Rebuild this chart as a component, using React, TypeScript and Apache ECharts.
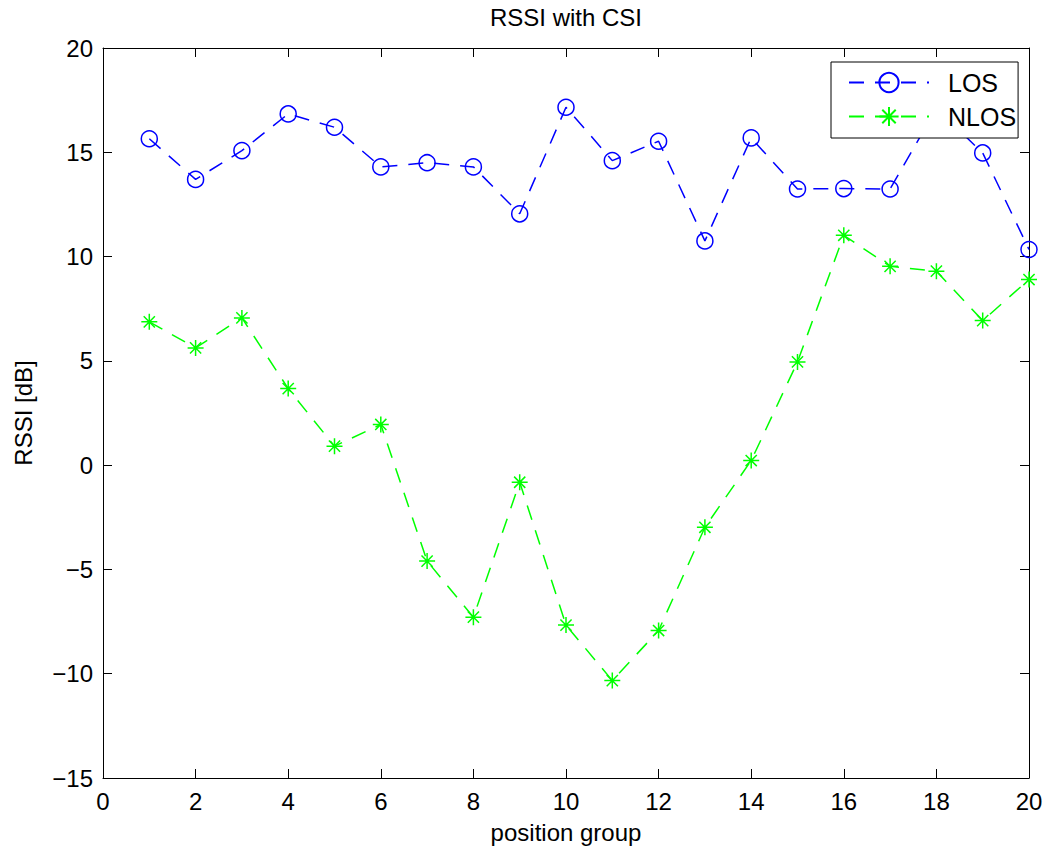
import React, { useEffect, useRef } from "react";
import * as echarts from "echarts";

const positions = [1, 2, 3, 4, 5, 6, 7, 8, 9, 10, 11, 12, 13, 14, 15, 16, 17, 18, 19, 20];
const losValues = [15.65, 13.7, 15.08, 16.84, 16.2, 14.3, 14.5, 14.3, 12.05, 17.16, 14.6, 15.53, 10.75, 15.69, 13.24, 13.26, 13.24, 17.1, 14.97, 10.34];
const nlosValues = [6.87, 5.62, 7.06, 3.67, 0.91, 1.95, -4.6, -7.29, -0.82, -7.67, -10.33, -7.93, -2.98, 0.22, 4.95, 11.02, 9.53, 9.3, 6.93, 8.9];
const seriesNames = ["LOS", "NLOS"];
const xTicks = { min: 0, max: 20, interval: 2 };
const yTicks = { min: -15, max: 20, interval: 5 };

const FONT = "'Liberation Sans', Arial, Helvetica, sans-serif";
const ASTERISK = "path://M5 0L5 10M0 5L10 5M1.5 1.5L8.5 8.5M1.5 8.5L8.5 1.5";

export default function App() {
  const ref = useRef<HTMLDivElement>(null);
  useEffect(() => {
    if (!ref.current) return;
    const chart = echarts.init(ref.current, undefined, { renderer: "svg" });
    const tickStyle = { show: true, inside: true, length: 9, lineStyle: { color: "#000", width: 1 } };
    const lineAx = { show: true, onZero: false, lineStyle: { color: "#000", width: 1 } };
    chart.setOption({
      animation: false,
      backgroundColor: "#fff",
      textStyle: { fontFamily: FONT },
      grid: { left: 103, right: 19, top: 48, bottom: 75, containLabel: false },
      graphic: [
        {
          type: "text",
          x: 566,
          y: 5,
          style: { text: "RSSI with CSI", textAlign: "center", font: `24px ${FONT}`, fill: "#000" },
        },
      ],
      legend: {
        orient: "vertical",
        left: 831,
        top: 62,
        padding: [8, 2, 9, 17],
        itemWidth: 80,
        itemHeight: 24,
        itemGap: 9,
        backgroundColor: "#fff",
        borderColor: "#000",
        borderWidth: 1,
        borderRadius: 0,
        textStyle: { fontSize: 25, color: "#000", fontFamily: FONT, padding: [0, 0, 0, 14] },
        data: seriesNames,
      },
      xAxis: [
        {
          type: "value",
          min: xTicks.min,
          max: xTicks.max,
          interval: xTicks.interval,
          name: "position group",
          nameLocation: "middle",
          nameGap: 42,
          nameTextStyle: { fontSize: 24, color: "#000", fontFamily: FONT },
          axisLine: lineAx,
          axisTick: tickStyle,
          axisLabel: { fontSize: 24, color: "#000", margin: 11, fontFamily: FONT },
          splitLine: { show: false },
        },
        {
          type: "value",
          position: "top",
          min: xTicks.min,
          max: xTicks.max,
          interval: xTicks.interval,
          axisLine: lineAx,
          axisTick: tickStyle,
          axisLabel: { show: false },
          splitLine: { show: false },
        },
      ],
      yAxis: [
        {
          type: "value",
          min: yTicks.min,
          max: yTicks.max,
          interval: yTicks.interval,
          name: "RSSI [dB]",
          nameLocation: "middle",
          nameGap: 68,
          nameTextStyle: { fontSize: 24, color: "#000", fontFamily: FONT },
          axisLine: lineAx,
          axisTick: tickStyle,
          axisLabel: {
            fontSize: 24,
            color: "#000",
            margin: 10,
            fontFamily: FONT,
            formatter: (v: number) => (v < 0 ? "\u2212" + Math.abs(v) : String(v)),
          },
          splitLine: { show: false },
        },
        {
          type: "value",
          position: "right",
          min: yTicks.min,
          max: yTicks.max,
          interval: yTicks.interval,
          axisLine: lineAx,
          axisTick: tickStyle,
          axisLabel: { show: false },
          splitLine: { show: false },
        },
      ],
      series: [
        {
          name: seriesNames[0],
          type: "line",
          xAxisIndex: 0,
          yAxisIndex: 0,
          data: positions.map((p, i) => [p, losValues[i]]),
          symbol: "circle",
          symbolSize: 16,
          showAllSymbol: true,
          lineStyle: { color: "#0000ff", width: 1.5, type: [15, 11] },
          itemStyle: { color: "rgba(0,0,0,0)", borderColor: "#0000ff", borderWidth: 1.5 },
          z: 3,
        },
        {
          name: seriesNames[1],
          type: "line",
          xAxisIndex: 0,
          yAxisIndex: 0,
          data: positions.map((p, i) => [p, nlosValues[i]]),
          symbol: ASTERISK,
          symbolSize: 16,
          showAllSymbol: true,
          lineStyle: { color: "#00ff00", width: 1.5, type: [15, 11] },
          itemStyle: { color: "#00ff00", borderColor: "#00ff00", borderWidth: 1.5 },
          z: 2,
        },
      ],
    });
    return () => chart.dispose();
  }, []);
  return (
    <div
      ref={ref}
      style={{ position: "fixed", left: 0, top: 0, width: 1048, height: 853, background: "#fff" }}
    />
  );
}
